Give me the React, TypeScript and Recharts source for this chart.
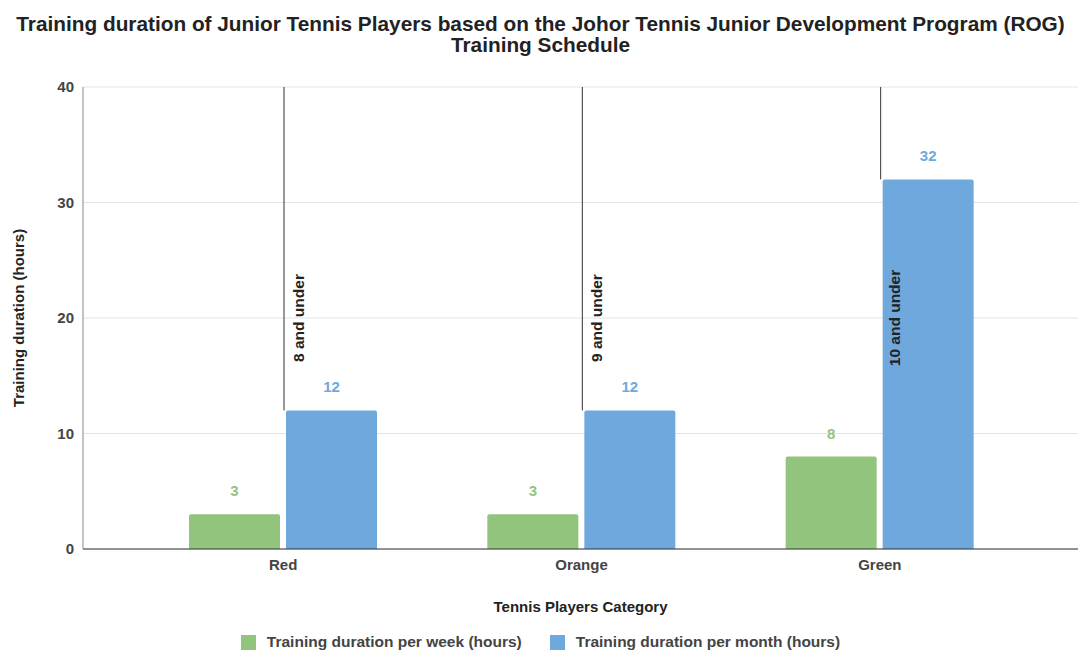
import { BarChart, Bar, XAxis, YAxis, CartesianGrid, LabelList, Label } from "recharts";

const categories = ["Red", "Orange", "Green"];
const perWeek = [3, 3, 8];
const perMonth = [12, 12, 32];
const ageGroups = ["8 and under", "9 and under", "10 and under"];
const yTicks = [0, 10, 20, 30, 40];

const seriesNames = ["Training duration per week (hours)", "Training duration per month (hours)"];
const colors = ["#93c47d", "#6fa8dc"];

const data = categories.map((c, i) => ({
  category: c,
  week: perWeek[i],
  month: perMonth[i],
  group: ageGroups[i],
}));

const W = 1081;
const H = 653;
const yMax = yTicks[yTicks.length - 1];
const boldFont = "'Liberation Sans', Arial, sans-serif";

// draws the vertical annotation line + rotated text for each category
function Annotation(props: any) {
  const { x, y, height, index } = props;
  const value = perMonth[index];
  const base = y + height;
  const pxPerUnit = height / value;
  const top = base - yMax * pxPerUnit;
  const mid = base - (yMax / 2) * pxPerUnit;
  const lx = x - 2;
  const tx = lx + 14;
  return (
    <g>
      <line x1={lx} x2={lx} y1={top} y2={y} stroke="#333" strokeWidth={1} />
      <text
        x={tx}
        y={mid}
        transform={`rotate(-90 ${tx} ${mid})`}
        textAnchor="middle"
        dominantBaseline="central"
        fontFamily={boldFont}
        fontWeight="bold"
        fontSize={15.5}
        fill="#222"
      >
        {ageGroups[index]}
      </text>
    </g>
  );
}

function YTitle(props: any) {
  const { viewBox } = props;
  const cx = viewBox.x + 18;
  const cy = viewBox.y + viewBox.height / 2;
  return (
    <text
      x={cx}
      y={cy}
      transform={`rotate(-90 ${cx} ${cy})`}
      textAnchor="middle"
      dominantBaseline="central"
      fontFamily={boldFont}
      fontWeight="bold"
      fontSize={15}
      fill="#222"
    >
      Training duration (hours)
    </text>
  );
}

export default function App() {
  const tickStyle = { fontFamily: boldFont, fontWeight: "bold", fontSize: 15, fill: "#444" };
  return (
    <div style={{ position: "absolute", left: 0, top: 0, width: W, height: H, background: "#fff" }}>
      <div
        style={{
          position: "absolute",
          top: 13,
          left: 0,
          width: W,
          textAlign: "center",
          fontFamily: boldFont,
          fontWeight: "bold",
          fontSize: 20.8,
          lineHeight: "21px",
          color: "#222",
        }}
      >
        Training duration of Junior Tennis Players based on the Johor Tennis Junior Development Program (ROG)
        <br />
        Training Schedule
      </div>
      <BarChart
        width={W}
        height={H}
        data={data}
        margin={{ top: 87, right: 3, left: 0, bottom: 0 }}
        barCategoryGap={55}
        barGap={6}
      >
        <CartesianGrid vertical={false} stroke="#e3e3e3" />
        <XAxis
          dataKey="category"
          height={104}
          padding={{ left: 51, right: 49 }}
          tickLine={false}
          tickSize={0}
          tickMargin={10}
          stroke="#333"
          tick={tickStyle}
        >
          <Label
            value="Tennis Players Category"
            position="insideBottom"
            offset={41}
            style={{ fontFamily: boldFont, fontWeight: "bold", fontSize: 15, fill: "#222" }}
          />
        </XAxis>
        <YAxis
          width={83}
          domain={[0, yMax]}
          ticks={yTicks}
          tickLine={false}
          tickSize={0}
          tickMargin={9}
          stroke="#888"
          tick={tickStyle}
        >
          <Label content={<YTitle />} />
        </YAxis>
        <Bar dataKey="week" fill={colors[0]} radius={[2, 2, 0, 0]} isAnimationActive={false}>
          <LabelList
            dataKey="week"
            position="top"
            offset={18}
            style={{ fontFamily: boldFont, fontWeight: "bold", fontSize: 15, fill: colors[0] }}
          />
        </Bar>
        <Bar dataKey="month" fill={colors[1]} radius={[2, 2, 0, 0]} isAnimationActive={false}>
          <LabelList dataKey="group" content={<Annotation />} />
          <LabelList
            dataKey="month"
            position="top"
            offset={18}
            style={{ fontFamily: boldFont, fontWeight: "bold", fontSize: 15, fill: colors[1] }}
          />
        </Bar>
      </BarChart>
      <div
        style={{
          position: "absolute",
          top: 633,
          left: 0,
          width: W,
          display: "flex",
          justifyContent: "center",
          gap: 28,
          fontFamily: boldFont,
          fontWeight: "bold",
          fontSize: 15.5,
          lineHeight: "18px",
          color: "#444",
        }}
      >
        {seriesNames.map((n, i) => (
          <div key={n} style={{ display: "flex", alignItems: "center", gap: 11 }}>
            <span style={{ width: 15, height: 15, background: colors[i], display: "inline-block" }} />
            <span>{n}</span>
          </div>
        ))}
      </div>
    </div>
  );
}
